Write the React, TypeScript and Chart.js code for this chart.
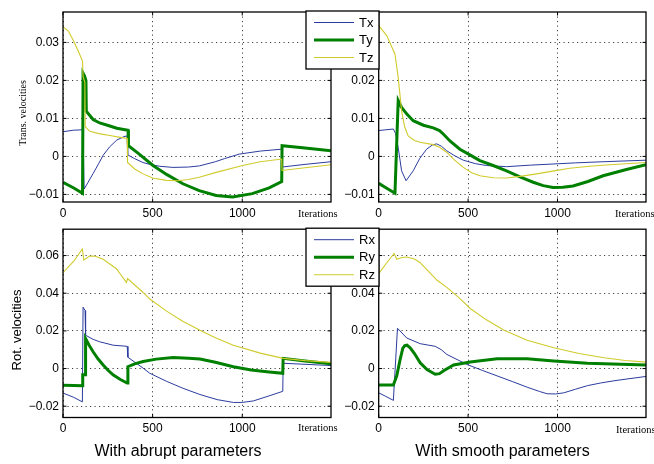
import React, { useEffect, useRef } from 'react';
import { Chart, registerables } from 'chart.js';

Chart.register(...registerables);

// ---------- DATA ----------
const xTicks = [0, 500, 1000];
const transTicks = [-0.01, 0, 0.01, 0.02, 0.03];
const rotTicks = [-0.02, 0, 0.02, 0.04, 0.06];
const transLabels = ['Tx', 'Ty', 'Tz'];
const rotLabels = ['Rx', 'Ry', 'Rz'];

// Abrupt parameters, translational velocities
const txAbruptIter = [0, 60, 110, 113, 116, 118, 140, 168, 200, 224, 260, 300, 340, 358, 361, 400, 446, 483, 540, 613, 700, 761, 850, 900, 983, 1100, 1220, 1222, 1350, 1495];
const txAbrupt = [0.0065, 0.0069, 0.0070, 0.0035, 0.0035, -0.0086, -0.0068, -0.0045, -0.0018, 0.0003, 0.0025, 0.0043, 0.0052, 0.0054, 0.0004, -0.0006, -0.0016, -0.0021, -0.0026, -0.0029, -0.0028, -0.0025, -0.0014, -0.0006, 0.0006, 0.0014, 0.0019, -0.0028, -0.0021, -0.0014];
const tyAbruptIter = [0, 60, 109, 112, 120, 128, 130, 168, 205, 261, 300, 363, 365, 420, 502, 580, 669, 760, 854, 946, 1056, 1150, 1220, 1222, 1350, 1495];
const tyAbrupt = [-0.0068, -0.0083, -0.0097, 0.0219, 0.0212, 0.0200, 0.0119, 0.0097, 0.0088, 0.0080, 0.0074, 0.0069, 0.0028, 0.0008, -0.0024, -0.0048, -0.0072, -0.0090, -0.0103, -0.0107, -0.0098, -0.0083, -0.0066, 0.0028, 0.0022, 0.0015];
const tzAbruptIter = [0, 30, 60, 90, 109, 112, 122, 124, 150, 200, 261, 320, 358, 360, 400, 446, 500, 576, 640, 700, 760, 854, 1002, 1100, 1220, 1222, 1350, 1495];
const tzAbrupt = [0.0341, 0.0330, 0.0303, 0.0272, 0.0250, 0.0210, 0.0195, 0.0078, 0.0066, 0.0060, 0.0055, 0.0050, 0.0047, -0.0016, -0.0033, -0.0046, -0.0057, -0.0063, -0.0064, -0.0061, -0.0055, -0.0042, -0.0024, -0.0014, -0.0007, -0.0037, -0.0030, -0.0022];

// Smooth parameters, translational velocities
const txSmoothIter = [0, 40, 82, 95, 110, 128, 153, 193, 230, 268, 300, 324, 350, 380, 420, 473, 540, 603, 715, 850, 975, 1100, 1255, 1495];
const txSmooth = [0.0068, 0.0070, 0.0072, 0.0060, 0.0020, -0.0038, -0.0064, -0.0038, -0.0005, 0.0019, 0.0030, 0.0033, 0.0027, 0.0015, 0.0003, -0.0010, -0.0019, -0.0024, -0.0027, -0.0023, -0.0020, -0.0017, -0.0014, -0.0010];
const tySmoothIter = [0, 45, 91, 109, 128, 160, 193, 250, 305, 340, 361, 400, 454, 510, 566, 640, 715, 790, 864, 920, 975, 1030, 1087, 1170, 1255, 1380, 1495];
const tySmooth = [-0.0071, -0.0084, -0.0097, 0.0147, 0.0129, 0.0110, 0.0094, 0.0082, 0.0075, 0.0068, 0.0059, 0.0040, 0.0019, 0.0004, -0.0011, -0.0024, -0.0038, -0.0054, -0.0068, -0.0077, -0.0082, -0.0081, -0.0078, -0.0066, -0.0051, -0.0035, -0.0022];
const tzSmoothIter = [0, 45, 91, 109, 128, 145, 165, 200, 231, 305, 340, 380, 420, 473, 520, 566, 640, 715, 800, 883, 980, 1069, 1180, 1292, 1495];
const tzSmooth = [0.0344, 0.0318, 0.0269, 0.0208, 0.0120, 0.0078, 0.0054, 0.0042, 0.0037, 0.0031, 0.0024, 0.0011, -0.0008, -0.0029, -0.0043, -0.0051, -0.0056, -0.0057, -0.0052, -0.0046, -0.0038, -0.0031, -0.0026, -0.0022, -0.0016];

// Abrupt parameters, rotational velocities
const rxAbruptIter = [0, 60, 108, 112, 123, 126, 168, 205, 280, 358, 362, 447, 484, 578, 670, 764, 860, 950, 1000, 1062, 1150, 1226, 1228, 1495];
const rxAbrupt = [-0.0130, -0.0153, -0.0177, 0.0326, 0.0308, 0.0177, 0.0155, 0.0142, 0.0124, 0.0118, 0.0060, 0.0002, -0.0025, -0.0068, -0.0105, -0.0138, -0.0165, -0.0180, -0.0180, -0.0172, -0.0145, -0.0121, 0.0028, 0.0016];
const ryAbruptIter = [0, 60, 108, 110, 123, 126, 145, 168, 195, 224, 250, 279, 320, 358, 362, 400, 447, 520, 615, 700, 764, 850, 950, 1050, 1150, 1226, 1228, 1350, 1495];
const ryAbrupt = [-0.0089, -0.0090, -0.0092, -0.0033, -0.0033, 0.0159, 0.0125, 0.0089, 0.0052, 0.0019, -0.0008, -0.0033, -0.0058, -0.0077, 0.0010, 0.0025, 0.0037, 0.0050, 0.0058, 0.0055, 0.0051, 0.0033, 0.0010, -0.0008, -0.0018, -0.0025, 0.0054, 0.0040, 0.0025];
const rzAbruptIter = [0, 60, 108, 116, 149, 180, 224, 298, 354, 360, 447, 484, 578, 670, 764, 850, 950, 1100, 1229, 1350, 1495];
const rzAbrupt = [0.0509, 0.0570, 0.0635, 0.0576, 0.0597, 0.0596, 0.0580, 0.0530, 0.0457, 0.0478, 0.0404, 0.0369, 0.0305, 0.0250, 0.0203, 0.0163, 0.0124, 0.0082, 0.0054, 0.0042, 0.0033];

// Smooth parameters, rotational velocities
const rxSmoothIter = [0, 40, 82, 105, 157, 232, 280, 316, 350, 381, 493, 580, 662, 750, 830, 900, 942, 990, 1035, 1100, 1167, 1240, 1316, 1400, 1495];
const rxSmooth = [-0.0129, -0.0148, -0.0169, 0.0214, 0.0162, 0.0132, 0.0124, 0.0118, 0.0100, 0.0075, 0.0022, -0.0010, -0.0039, -0.0070, -0.0099, -0.0122, -0.0134, -0.0135, -0.0129, -0.0110, -0.0091, -0.0077, -0.0065, -0.0054, -0.0042];
const rySmoothIter = [0, 82, 101, 120, 135, 146, 158, 176, 200, 232, 270, 316, 340, 363, 419, 512, 662, 830, 979, 1167, 1495];
const rySmooth = [-0.0087, -0.0087, -0.0039, 0.0049, 0.0108, 0.0122, 0.0124, 0.0110, 0.0080, 0.0031, -0.0005, -0.0030, -0.0027, -0.0012, 0.0019, 0.0035, 0.0052, 0.0052, 0.0040, 0.0028, 0.0019];
const rzSmoothIter = [0, 40, 86, 101, 130, 157, 200, 232, 280, 325, 381, 450, 512, 600, 699, 830, 979, 1120, 1260, 1380, 1495];
const rzSmooth = [0.0504, 0.0555, 0.0611, 0.0580, 0.0590, 0.0592, 0.0582, 0.0562, 0.0515, 0.0470, 0.0431, 0.0375, 0.0319, 0.0260, 0.0205, 0.0150, 0.0110, 0.0080, 0.0057, 0.0043, 0.0034];

// ---------- STYLE / LAYOUT ----------
const X_MAX = 1495;
const BLUE = '#2b3c9e';
const GREEN = '#008000';
const YELLOW = '#d0cb2c';
const SANS = '"Liberation Sans", Arial, sans-serif';
const SERIF = '"Liberation Serif", "Times New Roman", serif';

type Series = { label: string; xs: number[]; ys: number[]; color: string; width: number };
type Area = { left: number; top: number; right: number; bottom: number };
type Panel = {
  key: string;
  left: number; top: number; w: number; h: number;
  area: Area;
  yMin: number; yMax: number; yTicks: number[];
  series: Series[];
  legend: boolean;
  yTitle?: { text: string; font: string; x: number; y: number };
  caption?: { text: string; x: number; y: number };
  iterDx: number; iterDy: number;
};

const mk = (labels: string[], xs: number[][], ys: number[][]): Series[] => [
  { label: labels[0], xs: xs[0], ys: ys[0], color: BLUE, width: 1 },
  { label: labels[1], xs: xs[1], ys: ys[1], color: GREEN, width: 3 },
  { label: labels[2], xs: xs[2], ys: ys[2], color: YELLOW, width: 1.1 },
];

const panels: Panel[] = [
  {
    key: 'tr', left: 320, top: 0, w: 334, h: 222,
    area: { left: 58.7, top: 12, right: 326, bottom: 202 },
    yMin: -0.012, yMax: 0.038, yTicks: transTicks,
    series: mk(transLabels, [txSmoothIter, tySmoothIter, tzSmoothIter], [txSmooth, tySmooth, tzSmooth]),
    legend: false, iterDx: -31, iterDy: 15,
  },
  {
    key: 'br', left: 320, top: 218, w: 334, h: 246,
    area: { left: 58.7, top: 9, right: 326, bottom: 199.5 },
    yMin: -0.026, yMax: 0.074, yTicks: rotTicks,
    series: mk(rotLabels, [rxSmoothIter, rySmoothIter, rzSmoothIter], [rxSmooth, rySmooth, rzSmooth]),
    legend: false, iterDx: -30, iterDy: 15,
    caption: { text: 'With smooth parameters', x: 182.5, y: 238 },
  },
  {
    key: 'tl', left: 0, top: 0, w: 385, h: 222,
    area: { left: 63, top: 12, right: 331, bottom: 202 },
    yMin: -0.012, yMax: 0.038, yTicks: transTicks,
    series: mk(transLabels, [txAbruptIter, tyAbruptIter, tzAbruptIter], [txAbrupt, tyAbrupt, tzAbrupt]),
    legend: true, iterDx: -33, iterDy: 15,
    yTitle: { text: 'Trans. velocities', font: `10px ${SERIF}`, x: 23, y: 113 },
  },
  {
    key: 'bl', left: 0, top: 218, w: 385, h: 246,
    area: { left: 63, top: 9, right: 331, bottom: 199.5 },
    yMin: -0.026, yMax: 0.074, yTicks: rotTicks,
    series: mk(rotLabels, [rxAbruptIter, ryAbruptIter, rzAbruptIter], [rxAbrupt, ryAbrupt, rzAbrupt]),
    legend: true, iterDx: -33, iterDy: 13,
    yTitle: { text: 'Rot. velocities', font: `13px ${SANS}`, x: 17, y: 112 },
    caption: { text: 'With abrupt parameters', x: 178, y: 238 },
  },
];

const fmtY = (v: number) => (v === 0 ? '0' : (v < 0 ? '\u2212' : '') + Math.abs(v).toFixed(2));

function buildChart(canvas: HTMLCanvasElement, p: Panel) {
  const framePlugin = {
    id: 'matlabFrame',
    afterDatasetsDraw(chart: any) {
      const { ctx, chartArea: a, scales } = chart;
      const xs = scales.x, ys = scales.y;
      ctx.save();
      ctx.strokeStyle = '#000';
      ctx.lineWidth = 1.3;
      ctx.strokeRect(a.left, a.top, a.right - a.left, a.bottom - a.top);
      ctx.lineWidth = 1;
      const tl = 3.5;
      ctx.beginPath();
      xs.ticks.forEach((t: any) => {
        const px = xs.getPixelForValue(t.value);
        ctx.moveTo(px, a.bottom); ctx.lineTo(px, a.bottom - tl);
        ctx.moveTo(px, a.top); ctx.lineTo(px, a.top + tl);
      });
      ys.ticks.forEach((t: any) => {
        const py = ys.getPixelForValue(t.value);
        ctx.moveTo(a.left, py); ctx.lineTo(a.left + tl, py);
        ctx.moveTo(a.right, py); ctx.lineTo(a.right - tl, py);
      });
      ctx.stroke();
      ctx.restore();
    },
  };

  const textPlugin = {
    id: 'panelTexts',
    afterDraw(chart: any) {
      const { ctx, chartArea: a } = chart;
      ctx.save();
      ctx.fillStyle = '#000';
      ctx.font = `10.5px ${SERIF}`;
      ctx.textAlign = 'left';
      ctx.textBaseline = 'alphabetic';
      ctx.fillText('Iterations', a.right + p.iterDx, a.bottom + p.iterDy);
      if (p.yTitle) {
        ctx.save();
        ctx.font = p.yTitle.font;
        ctx.textAlign = 'center';
        ctx.textBaseline = 'middle';
        ctx.translate(p.yTitle.x, p.yTitle.y);
        ctx.rotate(-Math.PI / 2);
        ctx.fillText(p.yTitle.text, 0, 0);
        ctx.restore();
      }
      if (p.caption) {
        ctx.font = `16px ${SANS}`;
        ctx.textAlign = 'center';
        ctx.textBaseline = 'alphabetic';
        ctx.fillText(p.caption.text, p.caption.x, p.caption.y);
      }
      ctx.restore();
    },
  };

  const legendPlugin = {
    id: 'boxLegend',
    afterDraw(chart: any) {
      if (!p.legend) return;
      const { ctx, chartArea: a } = chart;
      const L = a.right - 25, T = a.top - 1, W = 73, H = 58;
      ctx.save();
      ctx.fillStyle = '#fff';
      ctx.fillRect(L, T, W, H);
      ctx.strokeStyle = '#000';
      ctx.lineWidth = 1.3;
      ctx.strokeRect(L, T, W, H);
      chart.data.datasets.forEach((ds: any, i: number) => {
        const y = T + 11.5 + i * 17.5;
        ctx.beginPath();
        ctx.moveTo(L + 8, y);
        ctx.lineTo(L + 48, y);
        ctx.strokeStyle = ds.borderColor;
        ctx.lineWidth = ds.borderWidth;
        ctx.stroke();
        ctx.fillStyle = '#000';
        ctx.font = `13px ${SANS}`;
        ctx.textAlign = 'left';
        ctx.textBaseline = 'middle';
        ctx.fillText(ds.label, L + 53, y + 0.5);
      });
      ctx.restore();
    },
  };

  const gridCommon = {
    display: true,
    drawTicks: false,
    color: 'rgba(0,0,0,0.75)',
    lineWidth: 1,
  };

  return new Chart(canvas, {
    type: 'line',
    data: {
      datasets: p.series.map((s, i) => ({
        label: s.label,
        data: s.xs.map((x, j) => ({ x, y: s.ys[j] })),
        borderColor: s.color,
        backgroundColor: s.color,
        borderWidth: s.width,
        pointRadius: 0,
        tension: 0,
        fill: false,
        order: 2 - i,
      })),
    },
    options: {
      responsive: false,
      animation: false,
      events: [],
      layout: { padding: { left: 0, top: p.area.top, right: p.w - p.area.right, bottom: 0 } },
      plugins: { legend: { display: false }, tooltip: { enabled: false }, title: { display: false } },
      scales: {
        x: {
          type: 'linear',
          min: 0,
          max: X_MAX,
          bounds: 'data',
          afterBuildTicks: (s: any) => { s.ticks = xTicks.map((v) => ({ value: v })); },
          afterFit: (s: any) => { s.height = p.h - p.area.bottom; },
          grid: gridCommon,
          border: { display: false, dash: [1.2, 3.3] },
          ticks: {
            color: '#000',
            font: { family: SANS, size: 12 },
            padding: 4,
            maxRotation: 0,
            autoSkip: false,
            callback: (v: any) => String(v),
          },
        },
        y: {
          type: 'linear',
          min: p.yMin,
          max: p.yMax,
          bounds: 'data',
          afterBuildTicks: (s: any) => { s.ticks = p.yTicks.map((v) => ({ value: v })); },
          afterFit: (s: any) => { s.width = p.area.left; },
          grid: gridCommon,
          border: { display: false, dash: [1.2, 3.3] },
          ticks: {
            color: '#000',
            font: { family: SANS, size: 12 },
            padding: 4,
            autoSkip: false,
            callback: (v: any) => fmtY(Number(v)),
          },
        },
      },
    } as any,
    plugins: [framePlugin, textPlugin, legendPlugin],
  } as any);
}

function PanelChart({ p }: { p: Panel }) {
  const ref = useRef<HTMLCanvasElement | null>(null);
  useEffect(() => {
    if (!ref.current) return;
    const chart = buildChart(ref.current, p);
    return () => chart.destroy();
  }, [p]);
  return (
    <canvas
      ref={ref}
      width={p.w}
      height={p.h}
      style={{ position: 'absolute', left: p.left, top: p.top, width: p.w, height: p.h }}
    />
  );
}

export default function App() {
  return (
    <div style={{ position: 'absolute', left: 0, top: 0, width: 654, height: 464, background: '#fff', overflow: 'hidden' }}>
      {panels.map((p) => (
        <PanelChart key={p.key} p={p} />
      ))}
    </div>
  );
}
